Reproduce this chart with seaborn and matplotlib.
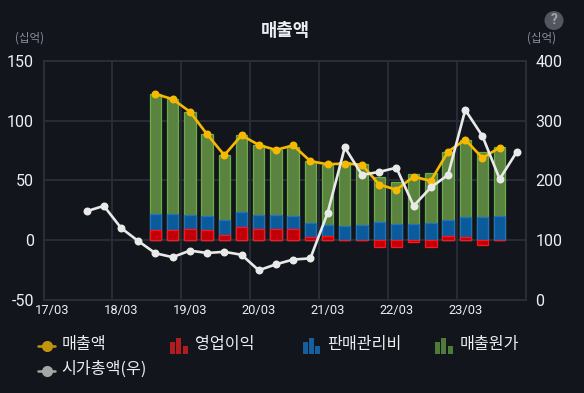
import matplotlib

matplotlib.use("Agg")
import matplotlib.pyplot as plt
import numpy as np
import pandas as pd
import seaborn as sns
from matplotlib.lines import Line2D
from matplotlib.patches import Circle, Rectangle

# 28 quarters, 17/03 .. 23/12
quarters = [f"{y}/{m}" for y in range(17, 24) for m in ("03", "06", "09", "12")]

nan = np.nan
# bars and revenue start at 18/09 and stop at 23/09
op_profit = [nan] * 6 + [8.4, 8.4, 9.2, 8.4, 3.9, 10.6, 9.2, 9.2, 9.2, 2.8, 3.2,
                         0.2, 0.2, -6, -6, -2, -6, 3.6, 2.2, -4.5, -0.5] + [nan]
sga = [nan] * 6 + [13.6, 13.6, 11.8, 11.6, 12.9, 12.4, 11.8, 11.8, 10.8, 11.2, 9.2,
                   11.3, 12.4, 14.8, 13.7, 13.7, 14.5, 12.9, 16.8, 19, 20] + [nan]
cogs = [nan] * 6 + [100.3, 96, 86.5, 69, 54.2, 64.7, 58.3, 54.4, 58, 52, 50.8,
                    53.5, 51.1, 38.2, 34.9, 41.6, 41.5, 57.2, 64.5, 54.7, 58] + [nan]
revenue = [nan] * 6 + [122.3, 118, 107.5, 88.5, 71, 87.7, 79.6, 75.4, 79.3, 66, 63.4,
                       64, 63, 46.4, 42, 53, 49.5, 74, 84, 68.7, 77.4] + [nan]
market_cap = [nan] * 2 + [148, 157, 120, 98, 77.5, 71, 82, 78, 80, 75, 49, 59, 67, 69,
                          145, 255, 209, 214, 221, 157, 188, 209, 318, 274, 202, 248]

left_ticks = [-50, 0, 50, 100, 150]
right_ticks = [0, 100, 200, 300, 400]

BG = "#12161c"
GRID = "#2a2e38"
TXT = "#eceef2"
MUTED = "#8b90a0"
NUM_FONT = "Roboto"

sns.set_theme(style="dark", rc={"axes.facecolor": BG, "figure.facecolor": BG})
plt.rcParams["font.family"] = ["Noto Sans CJK KR", "DejaVu Sans"]
plt.rcParams["axes.unicode_minus"] = False

df = pd.DataFrame({"q": quarters, "op": op_profit, "sga": sga, "cogs": cogs,
                   "rev": revenue, "cap": market_cap})
df["mid"] = df["op"].clip(lower=0) + df["sga"]
df["top"] = df["mid"] + df["cogs"]

W, H = 584, 393
fig = plt.figure(figsize=(W / 100, H / 100), dpi=100)
ax = fig.add_axes([43.6 / W, 1 - 299.5 / H, (525.5 - 43.6) / W, (299.5 - 61) / H])

# stack drawn back to front from the cumulative heights
bar_kw = dict(data=df, x="q", order=quarters, width=0.66, saturation=1, linewidth=0.9,
              errorbar=None, ax=ax)
sns.barplot(y="top", color="#5a8340", edgecolor="#6bab4a", **bar_kw)
sns.barplot(y="mid", color="#0b5a9c", edgecolor="#1f74bd", **bar_kw)
sns.barplot(y="op", color="#c00006", edgecolor="#ff1420", **bar_kw)
sns.pointplot(data=df, x="q", y="rev", order=quarters, color="#f7b900", errorbar=None,
              linewidth=1.9, markersize=4.3, ax=ax)

ax2 = ax.twinx()
sns.pointplot(data=df, x="q", y="cap", order=quarters, color="#e9e9e9", errorbar=None,
              linewidth=1.9, markersize=4.3, ax=ax2)

ax.set_xlim(-0.5, 27.5)
ax.set_ylim(-50, 150)
ax2.set_ylim(0, 400)
ax.set_xlabel("")
ax.set_ylabel("")
ax2.set_ylabel("")
ax.set_yticks(left_ticks)
ax2.set_yticks(right_ticks)
ax.set_xticks(range(0, 28, 4), quarters[::4])
ax.set_xticks(np.arange(-0.5, 28, 4), minor=True)
ax.set_axisbelow(True)
ax.grid(True, axis="y", which="major", color=GRID, lw=1.3)
ax.grid(True, axis="x", which="minor", color=GRID, lw=1.3)
ax.grid(False, axis="x", which="major")
ax2.grid(False)
ax.tick_params(axis="y", length=0, pad=7, labelsize=11.5, labelcolor=TXT)
ax2.tick_params(axis="y", length=0, pad=7, labelsize=11.5, labelcolor=TXT)
ax.tick_params(axis="x", which="both", length=0, pad=3, labelsize=9.3, labelcolor=TXT)
for lab in ax.get_xticklabels() + ax.get_yticklabels() + ax2.get_yticklabels():
    lab.set_family(NUM_FONT)
for a in (ax, ax2):
    for s in a.spines.values():
        s.set_color(GRID)
        s.set_linewidth(1.3)

# overlay in pixel coordinates for title, units and legend
ov = fig.add_axes([0, 0, 1, 1], zorder=5)
ov.set_xlim(0, W)
ov.set_ylim(H, 0)
ov.axis("off")
ov.patch.set_alpha(0)

ov.text(285, 31, "매출액", color=TXT, fontsize=12.8, fontweight="bold", ha="center", va="center")
ov.text(30, 38, "(십억)", color=MUTED, fontsize=8.3, ha="center", va="center")
ov.text(541, 38, "(십억)", color=MUTED, fontsize=8.3, ha="center", va="center")
ov.add_patch(Circle((554, 20.5), 9.5, color="#53565f", lw=0))
ov.text(554, 20.5, "?", color="#a2a4ab", fontsize=10, fontweight="bold", ha="center", va="center",
        family=NUM_FONT)


def legend_line(x, y, color, label):
    ov.add_line(Line2D([x - 8.5, x + 8.5], [y, y], color=color, lw=1.8))
    ov.add_line(Line2D([x], [y], color=color, marker="o", ms=8, mew=0))
    ov.text(x + 15, y - 1.5, label, color=TXT, fontsize=11.6, va="center")


def legend_bars(x, y, color, label):
    for dx, h in zip((0, 6.3, 12.6), (12, 16, 8)):
        ov.add_patch(Rectangle((x + dx, y + 8 - h), 5, h, color=color, lw=0))
    ov.text(x + 25, y - 1.5, label, color=TXT, fontsize=11.6, va="center")


legend_line(46.5, 346, "#c2950f", "매출액")
legend_bars(170, 346, "#b01c20", "영업이익")
legend_bars(302.5, 346, "#14609f", "판매관리비")
legend_bars(435, 346, "#507a3a", "매출원가")
legend_line(46.5, 371, "#a5a6a8", "시가총액(우)")

fig.savefig("out.png", dpi=100, facecolor=BG)
